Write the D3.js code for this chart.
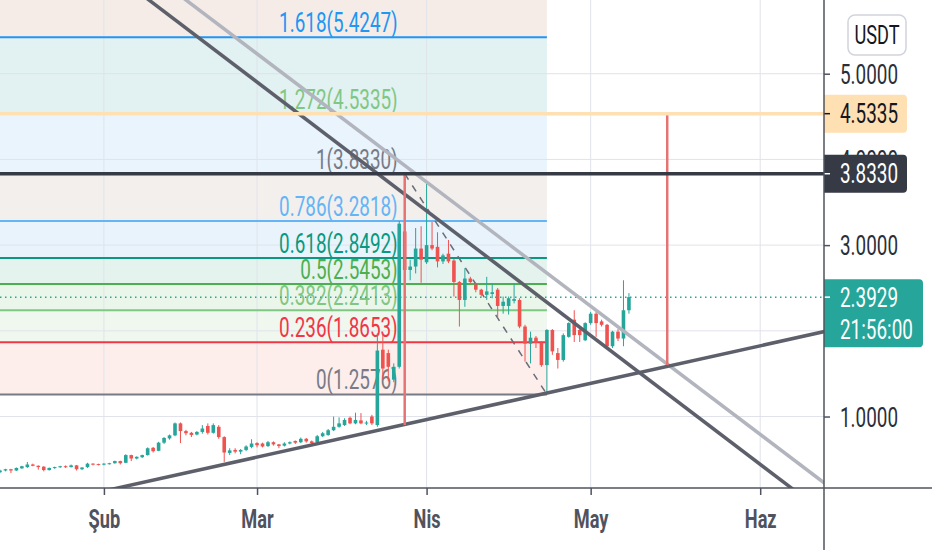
<!DOCTYPE html>
<html>
<head>
<meta charset="utf-8">
<script src="https://cdn.jsdelivr.net/npm/d3@7"></script>
<style>
	html, body { margin: 0; padding: 0; background: #fff; }
	svg { display: block; font-family: Roboto, "Noto Sans", sans-serif; }
</style>
</head>
<body>
<svg id="chart" width="932" height="550"></svg>
<script>
// daily candles, one per day from firstDay to lastDay
var firstDay = "2021-01-13";
var lastDay = "2021-05-08";

var opens = [
	.35, .37, .385, .37, .395, .41, .44, .425, .415, .375, .40, .41, .42, .41, .43, .385, .41, .45, .445,
	.44, .45, .455, .48, .46, .55, .51, .525, .55, .635, .60, .695, .745, .78, .92, .83, .81, .79, .82, .89, .81, .88, .76, .575, .61, .59, .61, .645,
	.69, .685, .655, .70, .675, .66, .685, .715, .70, .74, .71, .70, .77, .785, .84, .88, .90, .985, .92, .955, .92, 1.00, .90, 1.78, 1.74, 1.43, 1.58, 3.16, 2.71, 2.75, 2.96,
	2.80, 3.00, 2.98, 2.81, 2.90, 2.82, 2.57, 2.36, 2.61, 2.54, 2.48, 2.42, 2.43, 2.48, 2.29, 2.29, 2.35, 2.36, 2.05, 1.85, 1.92, 1.86, 1.60, 2.01, 1.74, 1.66, 1.93, 2.13, 2.01, 1.89,
	2.09, 2.20, 2.11, 2.07, 1.82, 1.99, 1.91, 2.24
];
var highs = [
	.38, .39, .39, .405, .425, .47, .45, .43, .42, .405, .415, .425, .43, .44, .435, .41, .46, .455, .45,
	.455, .46, .485, .485, .56, .555, .535, .555, .64, .645, .705, .76, .79, .93, .93, .845, .82, .83, .90, .92, .92, .90, .77, .63, .63, .62, .665, .735,
	.70, .695, .715, .71, .68, .70, .71, .72, .755, .75, .72, .785, .82, .855, 1.00, .99, .98, 1.00, 1.045, 1.04, .95, 1.02, 1.97, 1.97, 1.78, 1.62, 3.28, 3.833, 2.83, 3.20, 3.22,
	3.72, 3.27, 3.15, 2.90, 3.06, 2.84, 2.58, 2.73, 2.63, 2.56, 2.49, 2.63, 2.55, 2.50, 2.40, 2.40, 2.55, 2.38, 2.07, 1.99, 1.94, 1.88, 2.02, 2.02, 1.80, 1.97, 2.10, 2.24, 2.03, 2.10,
	2.22, 2.22, 2.13, 2.08, 2.00, 2.02, 2.59, 2.44
];
var lows = [
	.34, .36, .34, .365, .39, .40, .42, .38, .36, .37, .39, .40, .40, .405, .37, .375, .40, .43, .43,
	.43, .44, .45, .44, .455, .48, .50, .515, .545, .58, .595, .68, .73, .77, .69, .78, .76, .78, .80, .79, .80, .74, .47, .55, .57, .56, .595, .63,
	.64, .64, .645, .66, .63, .65, .675, .68, .69, .695, .68, .69, .76, .775, .83, .87, .89, .91, .91, .91, .90, .90, .88, 1.43, 1.41, 1.40, 1.56, 2.68, 2.59, 2.67, 2.56,
	2.78, 2.94, 2.74, 2.78, 2.79, 2.40, 2.05, 2.28, 2.55, 2.45, 2.40, 2.36, 2.38, 2.15, 2.20, 2.19, 2.32, 2.03, 1.64, 1.62, 1.80, 1.58, 1.2576, 1.72, 1.56, 1.64, 1.92, 1.87, 1.87, 1.88,
	2.07, 1.93, 2.05, 1.80, 1.80, 1.88, 1.82, 2.20
];
var closes = [
	.37, .385, .37, .40, .42, .44, .425, .41, .375, .40, .41, .42, .41, .43, .385, .405, .45, .44, .44,
	.45, .455, .48, .455, .55, .51, .53, .55, .63, .595, .695, .75, .78, .92, .83, .805, .785, .82, .86, .81, .90, .76, .58, .605, .59, .61, .65, .685,
	.665, .65, .70, .675, .655, .685, .70, .695, .74, .71, .69, .77, .805, .84, .88, .92, .96, .92, .96, .92, .93, .92, 1.77, 1.56, 1.58, 1.58, 3.25, 2.71, 2.75, 2.96, 2.83,
	3.00, 2.96, 2.81, 2.88, 2.81, 2.57, 2.36, 2.61, 2.57, 2.48, 2.42, 2.46, 2.45, 2.29, 2.34, 2.38, 2.37, 2.05, 1.85, 1.92, 1.86, 1.60, 2.01, 1.76, 1.66, 1.95, 2.09, 1.95, 1.95, 2.09,
	2.20, 2.09, 2.07, 1.82, 1.99, 1.91, 2.24, 2.3929
];

var monthTicks = ["2021-02-01", "2021-03-01", "2021-04-01", "2021-05-01", "2021-06-01"];
var monthLabels = ["Şub", "Mar", "Nis", "May", "Haz"];
var priceTicks = [1, 2, 3, 4, 5];

// fibonacci retracement
var fibLow = 1.2576, fibHigh = 3.8330;
var fibStart = "2021-03-28", fibEnd = "2021-04-23";
var fibLevels = [0, 0.236, 0.382, 0.5, 0.618, 0.786, 1, 1.272, 1.618, 2.618];
var fibTexts = ["1.2576", "1.8653", "2.2413", "2.5453", "2.8492", "3.2818", "3.8330", "4.5335", "5.4247", ""];
var fibColors = ["#787b86", "#f23645", "#81c784", "#4caf50", "#089981", "#64b5f6", "#787b86", "#81c784", "#2196f3", "#f23645"];
var fibFills = [null, "#fdeeec", "#eff7ef", "#ebf6eb", "#e5f3ee", "#e9f3fb", "#f3efed", "#e9f4fc", "#e2f1f1", "#f5ece7"];

// drawn trend lines (extended both ways)
var trendLines = [
	{ from: ["2021-02-08", 5.92], to: ["2021-06-06", 0.20], color: "#5d606b" },
	{ from: ["2021-02-16", 5.86], to: ["2021-06-12", 0.26], color: "#b2b5be" },
	{ from: ["2021-02-04", 0.173], to: ["2021-06-12", 1.981], color: "#5d606b" }
];
var redLines = [
	{ date: "2021-03-28", from: 3.833, to: 0.90 },
	{ date: "2021-05-15", from: 4.5335, to: 1.60 }
];
var hLines = [
	{ price: 4.5335, color: "#ffe0b2", text: "#131722" },
	{ price: 3.8330, color: "#363a45", text: "#ffffff" }
];
var lastPrice = 2.3929;
var countdown = "21:56:00";

var W = 932, H = 550, plotR = 824, plotB = 488;
var SX = 0.7;
var parse = d3.utcParse("%Y-%m-%d");

var svg = d3.select("#chart");

var x = d3.scaleUtc()
	.domain([Date.UTC(2021, 0, 13), Date.UTC(2021, 5, 12, 16)])
	.range([0, plotR]);
var y = d3.scaleLinear()
	.domain([0.166, 5.86])
	.range([plotB, 0]);

var days = d3.utcDay.range(parse(firstDay), d3.utcDay.offset(parse(lastDay), 1));
var candles = days.map(function(d, i) {
	return { date: d, o: opens[i], h: highs[i], l: lows[i], c: closes[i] };
});

var fibPrice = function(lv) {
	return fibLow + lv * (fibHigh - fibLow);
};

var label = function(g, px, py, s, o) {
	return g.append("text")
		.attr("transform", "translate(" + px + "," + py + ") scale(" + SX + ",1)")
		.attr("text-anchor", o.anchor || "start")
		.attr("font-size", o.size || 27)
		.attr("font-weight", o.weight || 400)
		.attr("fill", o.fill)
		.text(s);
}

svg.append("defs").append("clipPath").attr("id", "plot")
	.append("rect").attr("x", 0).attr("y", 0).attr("width", plotR).attr("height", plotB);

var plot = svg.append("g").attr("clip-path", "url(#plot)");

/* fib bands */
var fx0 = 0, fx1 = x(parse(fibEnd));
for (var i = 1; i < fibLevels.length; i++) {
	var ya = y(fibPrice(fibLevels[i])), yb = y(fibPrice(fibLevels[i - 1]));
	plot.append("rect")
		.attr("x", fx0).attr("width", fx1 - fx0)
		.attr("y", ya).attr("height", yb - ya)
		.attr("fill", fibFills[i]);
}

/* grid */
plot.selectAll(".hgrid").data(priceTicks).enter().append("line")
	.attr("x1", 0).attr("x2", plotR)
	.attr("y1", function(d) { return y(d); }).attr("y2", function(d) { return y(d); })
	.attr("stroke", "#e0e3eb").attr("stroke-width", 1);
plot.selectAll(".vgrid").data(monthTicks).enter().append("line")
	.attr("x1", function(d) { return x(parse(d)); }).attr("x2", function(d) { return x(parse(d)); })
	.attr("y1", 0).attr("y2", plotB)
	.attr("stroke", "#e0e3eb").attr("stroke-width", 1);

/* fib lines and labels */
var fibLabelX = x(parse(fibStart)) - 7;
fibLevels.forEach(function(lv, i) {
	var py = y(fibPrice(lv));
	if (py < 0) return;
	plot.append("line")
		.attr("x1", fx0).attr("x2", fx1).attr("y1", py).attr("y2", py)
		.attr("stroke", fibColors[i]).attr("stroke-width", 2);
	label(plot, fibLabelX, py - 5, lv + "(" + fibTexts[i] + ")", { anchor: "end", fill: fibColors[i] });
});

/* fib diagonal */
plot.append("line")
	.attr("x1", x(parse(fibStart))).attr("y1", y(fibHigh))
	.attr("x2", x(parse(fibEnd))).attr("y2", y(fibLow))
	.attr("stroke", "#6a6d78").attr("stroke-width", 1.5)
	.attr("stroke-dasharray", "7,7");

/* candles */
var bw = 3.6;
var cg = plot.append("g");
cg.selectAll(".wick").data(candles).enter().append("line")
	.attr("x1", function(d) { return x(d.date); }).attr("x2", function(d) { return x(d.date); })
	.attr("y1", function(d) { return y(d.h); }).attr("y2", function(d) { return y(d.l); })
	.attr("stroke", function(d) { return d.c >= d.o ? "#26a69a" : "#ef5350"; })
	.attr("stroke-width", 1);
cg.selectAll(".body").data(candles).enter().append("rect")
	.attr("x", function(d) { return x(d.date) - bw / 2; })
	.attr("width", bw)
	.attr("y", function(d) { return y(Math.max(d.o, d.c)); })
	.attr("height", function(d) { return Math.max(1, Math.abs(y(d.o) - y(d.c))); })
	.attr("fill", function(d) { return d.c >= d.o ? "#26a69a" : "#ef5350"; });

/* last price dotted line */
plot.append("line")
	.attr("x1", 0).attr("x2", plotR).attr("y1", y(lastPrice)).attr("y2", y(lastPrice))
	.attr("stroke", "#26a69a").attr("stroke-width", 1.5).attr("stroke-dasharray", "1.5,3.5");

/* trend lines */
trendLines.forEach(function(t) {
	var x1 = x(parse(t.from[0])), y1 = y(t.from[1]);
	var x2 = x(parse(t.to[0])), y2 = y(t.to[1]);
	var dx = x2 - x1, dy = y2 - y1;
	plot.append("line")
		.attr("x1", x1 - 3 * dx).attr("y1", y1 - 3 * dy)
		.attr("x2", x2 + 3 * dx).attr("y2", y2 + 3 * dy)
		.attr("stroke", t.color).attr("stroke-width", 3.5);
});

/* red vertical lines */
redLines.forEach(function(r) {
	plot.append("line")
		.attr("x1", x(parse(r.date))).attr("x2", x(parse(r.date)))
		.attr("y1", y(r.from)).attr("y2", y(r.to))
		.attr("stroke", "#e57373").attr("stroke-width", 2.5);
});

/* horizontal lines */
hLines.forEach(function(h) {
	plot.append("line")
		.attr("x1", 0).attr("x2", plotR).attr("y1", y(h.price)).attr("y2", y(h.price))
		.attr("stroke", h.color).attr("stroke-width", 3.5);
});

/* axes */
var xAxis = svg.append("g")
	.attr("transform", "translate(0," + plotB + ")")
	.call(d3.axisBottom(x)
		.tickValues(monthTicks.map(parse))
		.tickFormat(function(d, i) { return monthLabels[i]; })
		.tickSize(7));
xAxis.select(".domain").remove();
xAxis.selectAll(".tick line").attr("stroke", "#50535e").attr("stroke-width", 1.5);
xAxis.selectAll(".tick text")
	.attr("y", 40).attr("dy", 0)
	.attr("transform", "scale(" + SX + ",1)")
	.attr("font-size", 26).attr("font-weight", "bold")
	.attr("font-family", "Roboto, sans-serif")
	.attr("fill", "#50535e");

var yAxis = svg.append("g")
	.attr("transform", "translate(" + plotR + ",0)")
	.call(d3.axisRight(y)
		.tickValues(priceTicks)
		.tickFormat(d3.format(".4f"))
		.tickSize(6));
yAxis.select(".domain").remove();
yAxis.selectAll(".tick line").attr("stroke", "#50535e").attr("stroke-width", 1.5);
yAxis.selectAll(".tick text")
	.attr("x", 16 / SX).attr("dy", "0.36em")
	.attr("transform", "scale(" + SX + ",1)")
	.attr("font-size", 27)
	.attr("font-family", "Roboto, sans-serif")
	.attr("fill", "#2a2e39");

svg.append("line").attr("x1", 0).attr("x2", W).attr("y1", plotB).attr("y2", plotB)
	.attr("stroke", "#50535e").attr("stroke-width", 1.5);

/* price tags */
var tagPath = function(x0, y0, w, h, r) {
	return "M" + x0 + "," + y0 + "H" + (x0 + w - r) + "Q" + (x0 + w) + "," + y0 + " " + (x0 + w) + "," + (y0 + r) +
		"V" + (y0 + h - r) + "Q" + (x0 + w) + "," + (y0 + h) + " " + (x0 + w - r) + "," + (y0 + h) + "H" + x0 + "Z";
}
var tags = svg.append("g");
hLines.forEach(function(h) {
	var py = y(h.price);
	tags.append("path").attr("d", tagPath(plotR, py - 19, 83, 38, 4)).attr("fill", h.color);
	tags.append("line").attr("x1", plotR).attr("x2", plotR + 6).attr("y1", py).attr("y2", py)
		.attr("stroke", h.text === "#ffffff" ? "#ffffff" : "#131722").attr("stroke-width", 1.5);
	label(tags, plotR + 16, py + 9.5, d3.format(".4f")(h.price), { fill: h.text });
});
var lp = y(lastPrice);
tags.append("path").attr("d", tagPath(plotR, lp - 18, 99, 68, 4)).attr("fill", "#26a69a");
tags.append("line").attr("x1", plotR).attr("x2", plotR + 6).attr("y1", lp).attr("y2", lp)
	.attr("stroke", "#ffffff").attr("stroke-width", 1.5);
label(tags, plotR + 16, lp + 9.5, d3.format(".4f")(lastPrice), { fill: "#ffffff" });
label(tags, plotR + 16, lp + 41.5, countdown, { fill: "#ffffff" });
svg.append("line").attr("x1", plotR).attr("x2", plotR).attr("y1", 0).attr("y2", H)
	.attr("stroke", "#50535e").attr("stroke-width", 1.5);

/* currency box */
svg.append("rect").attr("x", 848).attr("y", 15).attr("width", 58).attr("height", 40).attr("rx", 7)
	.attr("fill", "#fff").attr("stroke", "#d1d4dc").attr("stroke-width", 1.5);
label(svg, 877, 43.5, "USDT", { anchor: "middle", size: 26, fill: "#131722" });
</script>
</body>
</html>
